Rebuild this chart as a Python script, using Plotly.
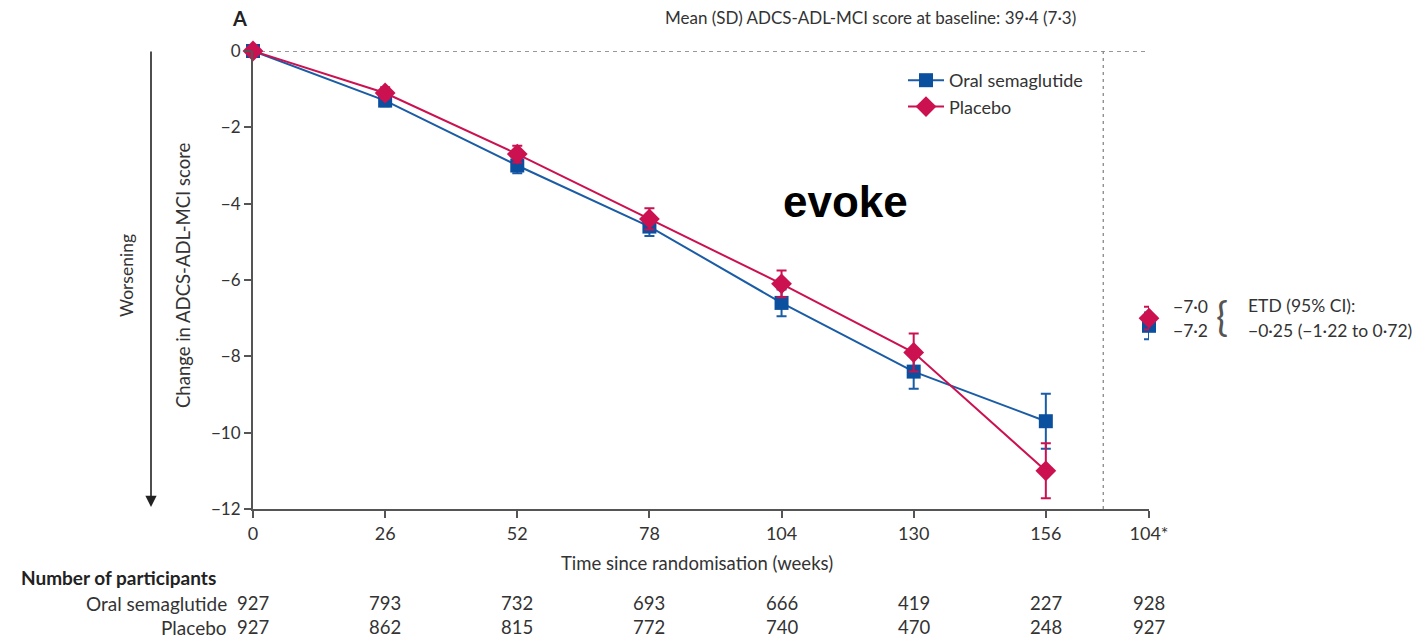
import plotly.graph_objects as go

# ---------------- data ----------------
weeks = [0, 26, 52, 78, 104, 130, 156]
sema_mean = [0, -1.3, -3.0, -4.6, -6.6, -8.4, -9.7]
sema_err = [0, 0.15, 0.2, 0.25, 0.35, 0.45, 0.72]
plac_mean = [0, -1.1, -2.7, -4.4, -6.1, -7.9, -11.0]
plac_err = [0, 0.15, 0.22, 0.28, 0.35, 0.5, 0.72]

end_x = 176.3  # position of the "104*" tick
sema_end = -7.2
sema_end_err = 0.35
plac_end = -7.0
plac_end_err = 0.3

tick_vals = [0, 26, 52, 78, 104, 130, 156, end_x]
tick_text = ["0", "26", "52", "78", "104", "130", "156", "104*"]
n_sema = [927, 793, 732, 693, 666, 419, 227, 928]
n_plac = [927, 862, 815, 772, 740, 470, 248, 927]

BLUE = "#1a5ca6"
BLUE_M = "#0b4f9f"
RED = "#cc1150"
TXT = "#333333"
FONT = "Lato"

# layout geometry (pixels)
W, H = 1427, 638
L, R, T, B = 253, 1149, 51, 509
PW, PH = R - L, B - T


def px(p):
    return (p - L) / PW


def py(p):
    return 1 - (p - T) / PH


fig = go.Figure()

fig.add_trace(go.Scatter(
    x=weeks, y=sema_mean, mode="lines+markers", name="Oral semaglutide",
    line=dict(color=BLUE, width=2),
    marker=dict(symbol="square", size=14, color=BLUE_M),
    error_y=dict(type="data", array=sema_err, color=BLUE, thickness=2, width=5),
    cliponaxis=False))
fig.add_trace(go.Scatter(
    x=weeks, y=plac_mean, mode="lines+markers", name="Placebo",
    line=dict(color=RED, width=2),
    marker=dict(symbol="diamond", size=16, color=RED),
    error_y=dict(type="data", array=plac_err, color=RED, thickness=2, width=5),
    cliponaxis=False))
fig.add_trace(go.Scatter(
    x=[end_x], y=[sema_end], mode="markers", showlegend=False,
    marker=dict(symbol="square", size=14, color=BLUE_M),
    error_y=dict(type="data", array=[sema_end_err], color=BLUE, thickness=2, width=5),
    cliponaxis=False))
fig.add_trace(go.Scatter(
    x=[end_x], y=[plac_end], mode="markers", showlegend=False,
    marker=dict(symbol="diamond", size=16, color=RED),
    error_y=dict(type="data", array=[plac_end_err], color=RED, thickness=2, width=5),
    cliponaxis=False))

# reference lines
fig.add_shape(type="line", xref="x", yref="y", x0=0, x1=end_x, y0=0, y1=0,
              line=dict(color="#777777", width=1.3, dash="4px,4px"), layer="below")
fig.add_shape(type="line", xref="x", yref="y", x0=167.3, x1=167.3, y0=0, y1=-12,
              line=dict(color="#888888", width=1.3, dash="3px,4px"), layer="below")

ann = []


def text(s, x, y, size=16, xanchor="center", bold=False, family=FONT, color=TXT,
         angle=0, xref="paper", yref="paper"):
    if bold:
        s = "<b>" + s + "</b>"
    ann.append(dict(text=s, x=x, y=y, xref=xref, yref=yref, showarrow=False,
                    xanchor=xanchor, yanchor="middle", textangle=angle,
                    font=dict(size=size, family=family, color=color)))


text("A", px(230), py(18), size=20, xanchor="left", bold=True, color="#222")
text("Mean (SD) ADCS-ADL-MCI score at baseline: 39·4 (7·3)", px(1078), py(18),
     size=17, xanchor="right")
text("evoke", px(845), py(202), size=44, bold=True, family="Liberation Sans", color="#000")
text("Worsening", px(126), py(276), size=17.5, angle=-90)
text("Change in ADCS-ADL-MCI score", px(183), py(275), size=18.5, angle=-90)
text("Time since randomisation (weeks)", px(697), py(563), size=18.5)
text("Number of participants", px(19), py(577), size=19, xanchor="left", bold=True, color="#222")
text("Oral semaglutide", px(229), py(603), size=19, xanchor="right")
text("Placebo", px(229), py(627), size=19, xanchor="right")
for xv, a, b in zip(tick_vals, n_sema, n_plac):
    text(str(a), xv, py(603), size=18.5, xref="x")
    text(str(b), xv, py(627), size=18.5, xref="x")

text("−7·0", px(1171), py(306), size=17.5, xanchor="left")
text("−7·2", px(1171), py(330), size=17.5, xanchor="left")
text("{", px(1222), py(316), size=40, family="Lato", color="#555")
text("ETD (95% CI):", px(1246), py(305), size=17.5, xanchor="left")
text("−0·25 (−1·22 to 0·72)", px(1246), py(330), size=17.5, xanchor="left")

# worsening arrow
ann.append(dict(text="", x=px(151), y=py(507), xref="paper", yref="paper",
                ax=0, ay=-457, axref="pixel", ayref="pixel", showarrow=True,
                arrowhead=2, arrowsize=1.4, arrowwidth=1.6, arrowcolor="#222"))

fig.update_layout(
    width=W, height=H,
    margin=dict(l=L, r=W - R, t=T, b=H - B, pad=0),
    paper_bgcolor="white", plot_bgcolor="white",
    font=dict(family=FONT, size=16, color=TXT),
    annotations=ann,
    legend=dict(x=px(903), y=py(62), xanchor="left", yanchor="top",
                bgcolor="rgba(0,0,0,0)", font=dict(size=18, family=FONT, color=TXT),
                itemwidth=36, tracegroupgap=0),
    showlegend=True,
)
fig.update_xaxes(range=[0, end_x], tickvals=tick_vals, ticktext=tick_text,
                 showgrid=False, zeroline=False, showline=True, linecolor="#555",
                 linewidth=2, ticks="outside", ticklen=7, tickwidth=1.5, tickcolor="#555",
                 tickfont=dict(size=18, color=TXT, family=FONT))
fig.update_yaxes(range=[-12, 0], tickvals=[0, -2, -4, -6, -8, -10, -12],
                 ticktext=["0", "−2", "−4", "−6", "−8", "−10", "−12"],
                 showgrid=False, zeroline=False, showline=True, linecolor="#555",
                 linewidth=2, ticks="outside", ticklen=7, tickwidth=1.5, tickcolor="#555",
                 tickfont=dict(size=17, color=TXT, family=FONT))

fig.write_html("out.html")
